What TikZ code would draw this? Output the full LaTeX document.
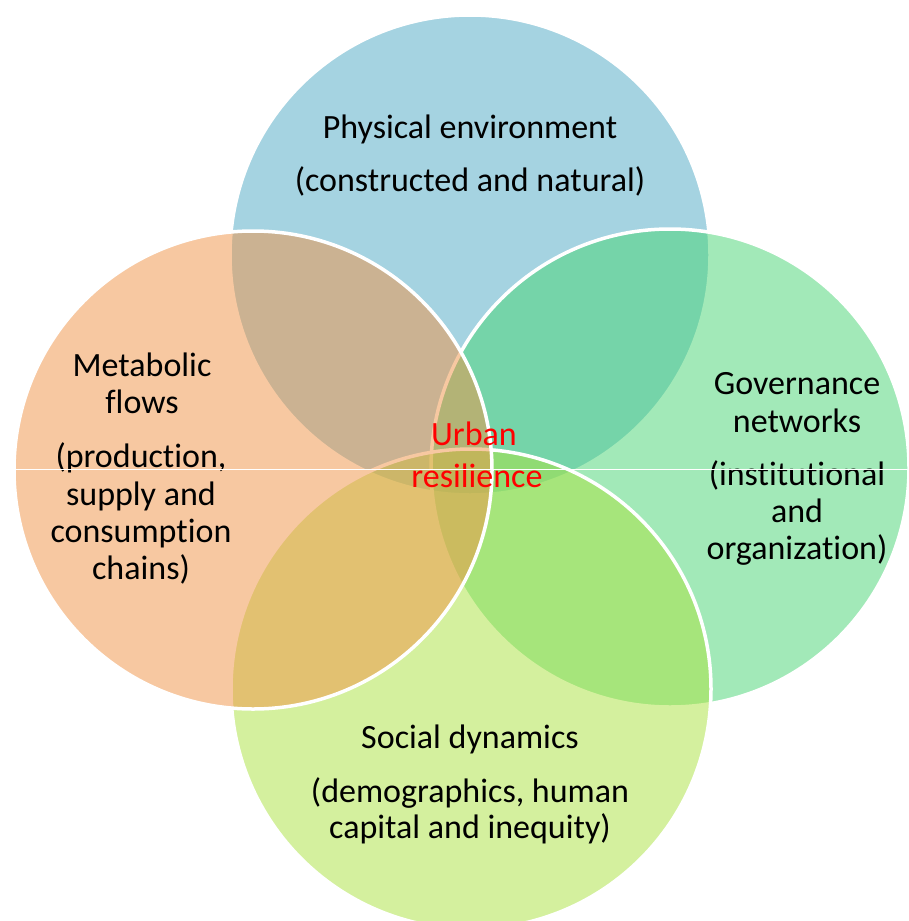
\documentclass[tikz,border=0pt]{standalone}
\usepackage{fontspec}
\setmainfont{Carlito}[Ligatures={NoCommon}]
\definecolor{blueC}{HTML}{4DA9C5}
\definecolor{greenC}{HTML}{47D573}
\definecolor{limeC}{HTML}{ABE33F}
\definecolor{orangeC}{HTML}{F19345}
\definecolor{redC}{HTML}{FF0000}
\begin{document}
\begin{tikzpicture}[x=1pt,y=-1pt,
  venn/.style={fill opacity=0.5, draw=white, draw opacity=1, line width=3.5pt},
  lbl/.style={anchor=base, inner sep=0pt, font=\fontsize{34}{37}\selectfont, text=black},
  ctr/.style={lbl, text=redC}]
\useasboundingbox (0,0) rectangle (909,921);
\clip (0,0) rectangle (909,921);
\fill[white] (0,0) rectangle (909,921);
% circles, in drawing order
\path[venn, fill=blueC]   (470,255) circle[radius=240pt];
\path[venn, fill=greenC]  (670,468) circle[radius=239pt];
\path[venn, fill=limeC]   (471,689) circle[radius=240pt];
\path[venn, fill=orangeC] (253,470) circle[radius=239pt];
% texts
\node[lbl] (p1) at (470,138) {Physical environment};
\node[lbl] (p2) at (470,191) {(constructed and natural)};
\node[lbl] (m1) at (142,376) {Metabolic};
\node[lbl] (m2) at (142,413) {flows};
\node[lbl] (m3) at (141,467) {(production,};
\node[lbl] (m4) at (141,505) {supply and};
\node[lbl] (m5) at (141,542) {consumption};
\node[lbl] (m6) at (141,579) {chains)};
\node[lbl] (g1) at (797,394) {Governance};
\node[lbl] (g2) at (797,432) {networks};
\node[lbl] (g3) at (797,485) {(institutional};
\node[lbl] (g4) at (797,522) {and};
\node[lbl] (g5) at (797,559) {organization)};
\node[lbl] (s1) at (470,748) {Social dynamics};
\node[lbl] (s2) at (470,802) {(demographics, human};
\node[lbl] (s3) at (470,838) {capital and inequity)};
\node[ctr] (u1) at (474,445) {Urban};
\node[ctr] (u2) at (477,487) {resilience};
% thin horizontal line across the picture
\coordinate (hl) at (0,469);
\coordinate (hr) at (909,469);
\draw[white, line width=1pt] (hl) -- (hr);
\end{tikzpicture}
\end{document}
